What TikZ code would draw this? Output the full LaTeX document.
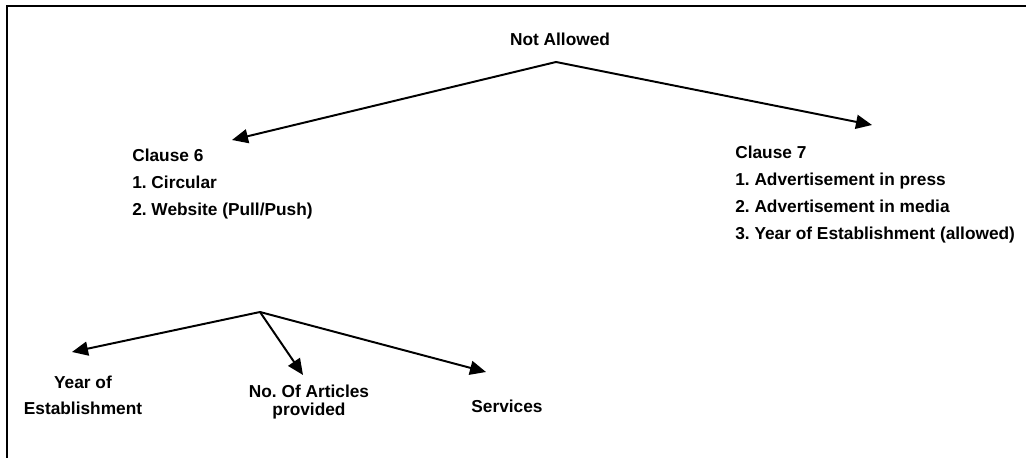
\documentclass[tikz,border=0pt]{standalone}
\usepackage{fontspec}
\setmainfont{Liberation Sans}
\usetikzlibrary{arrows.meta,positioning}

\begin{document}
\frenchspacing
\begin{tikzpicture}[x=0.025cm,y=-0.025cm]
            % Styles
            \tikzstyle{label}=[inner sep=0pt, font=\fontsize{12.3}{19.2}\selectfont\bfseries]
            \tikzstyle{clause}=[label, align=left, anchor=north west]
            \tikzstyle{item}=[label, align=center]
            \tikzstyle{arrow}=[-{Triangle[length=0.4cm,width=0.35cm]}, line width=1.4pt]
            \tikzstyle{frame}=[line width=1.8pt]

            \useasboundingbox (0,0) rectangle (1026,458);
            \draw[frame] (7,458) -- (7,6) -- (1026,6);

            % Nodes
            \node[label] (notallowed) at (560,39) {Not Allowed};
            \node[clause] (clause6) at (132,149) {Clause 6\\1. Circular\\2. Website (Pull/Push)};
            \node[clause] (clause7) at (735,146) {Clause 7\\1. Advertisement in press\\2. Advertisement in media\\3. Year of Establishment (allowed)};
            \node[item] (year) at (83,395) {Year of\\[-0.9pt]Establishment};
            \node[item] (articles) at (309,402) {No. Of Articles\\[-5.8pt]provided};
            \node[item] (services) at (507,406) {Services};

            % Points
            \coordinate (top) at (556,62);
            \coordinate (tip6) at (232,140);
            \coordinate (tip7) at (872,125);
            \coordinate (fork) at (260,312);
            \coordinate (tipyear) at (72,352);
            \coordinate (tiparticles) at (303,375);
            \coordinate (tipservices) at (486,372);

            % Arrows
            \draw[arrow] (top) -- (tip6);
            \draw[arrow] (top) -- (tip7);
            \draw[arrow] (fork) -- (tipyear);
            \draw[arrow] (fork) -- (tiparticles);
            \draw[arrow] (fork) -- (tipservices);
\end{tikzpicture}
\end{document}
